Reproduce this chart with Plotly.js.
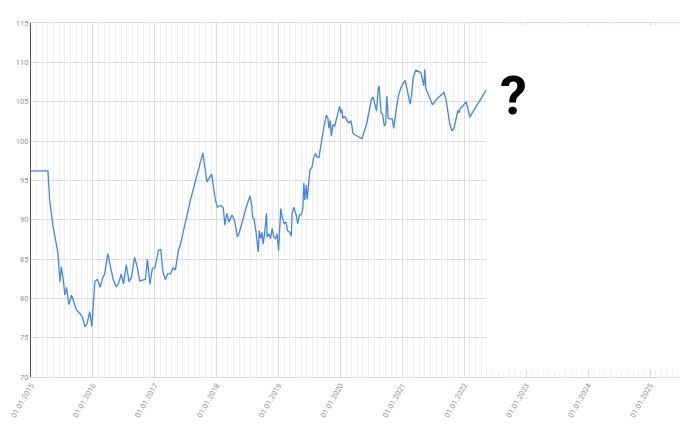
<!DOCTYPE html>
<html>
<head>
<meta charset="utf-8">
<script src="https://cdn.plot.ly/plotly-3.0.1.min.js"></script>
<style>html,body{margin:0;padding:0;background:#fff;}#chart{width:700px;height:430px;}</style>
</head>
<body>
<div id="chart"></div>
<script>
const dates = [
"2015-01-01","2015-04-11","2015-04-21","2015-05-10","2015-05-26","2015-06-09","2015-06-21","2015-06-29","2015-07-11","2015-07-20",
"2015-07-30","2015-08-12","2015-08-28","2015-09-11","2015-09-27","2015-10-16","2015-11-01","2015-11-15","2015-11-28","2015-12-14",
"2015-12-26","2016-01-13","2016-01-28","2016-02-13","2016-02-27","2016-03-11","2016-03-29","2016-04-12","2016-05-01","2016-05-17",
"2016-06-01","2016-06-17","2016-06-30","2016-07-16","2016-08-02","2016-08-16","2016-09-03","2016-09-19","2016-10-04","2016-10-18",
"2016-11-06","2016-11-18","2016-12-03","2016-12-17","2017-01-02","2017-01-22","2017-02-05","2017-02-18","2017-03-04","2017-03-17",
"2017-04-03","2017-04-19","2017-05-02","2017-05-18","2017-06-01","2017-07-30","2017-10-11","2017-11-04","2017-12-02","2017-12-24",
"2018-01-05","2018-01-24","2018-02-09","2018-02-18","2018-03-02","2018-03-14","2018-04-01","2018-04-16","2018-05-03","2018-05-15",
"2018-06-04","2018-06-27","2018-07-16","2018-07-27","2018-08-01","2018-08-09","2018-08-21","2018-08-28","2018-09-03","2018-09-09",
"2018-09-17","2018-09-25","2018-10-02","2018-10-10","2018-10-22","2018-10-25","2018-11-05","2018-11-15","2018-11-24","2018-12-04",
"2018-12-14","2018-12-23","2019-01-01","2019-01-14","2019-01-22","2019-02-03","2019-02-13","2019-02-23","2019-03-07","2019-03-17",
"2019-03-22","2019-04-01","2019-04-15","2019-04-24","2019-05-04","2019-05-14","2019-05-24","2019-05-30","2019-06-05","2019-06-13",
"2019-06-19","2019-06-27","2019-07-05","2019-07-18","2019-07-26","2019-08-07","2019-08-15","2019-08-27","2019-09-10","2019-09-24",
"2019-10-10","2019-10-19","2019-10-25","2019-11-02","2019-11-08","2019-11-18","2019-11-28","2019-12-08","2019-12-17","2019-12-27",
"2020-01-03","2020-01-09","2020-01-15","2020-01-25","2020-02-02","2020-02-10","2020-02-20","2020-03-02","2020-03-09","2020-03-15",
"2020-03-25","2020-04-14","2020-05-07","2020-06-03","2020-07-02","2020-07-11","2020-07-21","2020-08-01","2020-08-11","2020-08-16",
"2020-08-28","2020-09-06","2020-09-16","2020-09-24","2020-10-01","2020-10-09","2020-10-19","2020-11-02","2020-11-10","2020-11-18",
"2020-11-28","2020-12-08","2020-12-22","2021-01-07","2021-01-17","2021-01-27","2021-02-05","2021-02-15","2021-02-24","2021-03-05",
"2021-03-20","2021-04-04","2021-04-19","2021-04-29","2021-05-07","2021-05-13","2021-05-19","2021-05-26","2021-06-06","2021-06-16",
"2021-06-27","2021-07-21","2021-08-10","2021-09-03","2021-09-15","2021-09-28","2021-10-08","2021-10-20","2021-11-01","2021-11-12",
"2021-11-24","2021-11-30","2021-12-10","2021-12-25","2022-01-11","2022-01-21","2022-02-02","2022-02-23","2022-03-22","2022-05-11"
];
const values = [
96.2,96.2,92.5,89.3,87.4,85.7,82.1,84.0,82.3,80.4,
81.4,79.2,80.4,79.5,78.5,78.1,77.6,76.4,76.8,78.3,
76.4,82.2,82.4,81.4,82.6,83.1,85.7,84.2,82.3,81.5,
81.9,83.1,81.8,84.3,82.1,82.7,85.2,84.0,82.2,82.3,
82.4,85.0,81.8,83.8,83.9,86.1,86.2,83.3,82.4,83.1,
83.1,83.9,83.6,85.9,86.9,92.5,98.5,94.8,95.8,92.5,
91.6,91.8,91.5,89.3,90.8,89.7,90.6,89.9,87.8,88.4,
90.1,91.8,93.0,91.8,90.3,90.1,88.4,86.5,85.9,88.6,
87.6,88.4,86.9,88.2,90.8,87.8,88.2,87.6,88.9,87.8,
87.6,88.2,86.1,91.4,90.3,89.5,89.7,88.6,88.4,87.9,
90.8,91.6,90.6,89.5,90.6,90.6,91.4,94.7,92.5,94.4,
92.6,94.5,96.3,96.7,97.8,98.4,98.0,97.9,99.9,101.6,
103.3,102.9,101.6,102.6,100.6,102.1,101.9,102.7,103.6,104.4,
103.6,104.0,102.9,103.1,102.9,102.5,102.3,102.6,101.9,101.0,
100.8,100.6,100.3,102.1,105.3,105.6,104.6,103.8,106.7,107.0,
103.6,103.4,101.9,102.2,105.7,102.9,102.8,102.8,101.6,103.1,
104.4,105.7,106.7,107.4,107.7,106.7,105.7,104.7,105.9,108.0,
109.0,108.9,108.7,107.8,107.0,109.1,106.7,106.3,105.6,105.2,
104.6,105.3,105.7,106.2,105.3,103.3,102.1,101.3,101.6,102.7,
103.9,103.6,104.2,104.5,105.0,104.2,103.0,103.8,104.8,106.5
];
const xRange = ["2015-01-01", "2025-06-21"];
const yRange = [70, 115];
const futureStart = "2022-05-11";
const questionMark = "<b>?</b>";

const labelFont = {family: "Roboto, Arial, sans-serif", size: 7.6, color: "#959595"};

const trace = {
  x: dates, y: values, type: "scatter", mode: "lines",
  line: {color: "#4285f4", width: 1.3}, hoverinfo: "skip"
};

const layout = {
  width: 700, height: 430,
  margin: {l: 31, r: 21, t: 23, b: 53},
  paper_bgcolor: "#fff", plot_bgcolor: "#fff",
  showlegend: false,
  xaxis: {
    type: "date", range: xRange,
    tick0: "2015-01-01", dtick: "M12", tickformat: "%d.%m.%Y",
    tickangle: -60, tickfont: labelFont,
    showgrid: true, gridcolor: "#dcdcdc", gridwidth: 1,
    minor: {tick0: "2015-01-01", dtick: 31557600000/11, showgrid: true, gridcolor: "#f0f0f0", gridwidth: 1},
    showline: true, linecolor: "#dcdcdc", linewidth: 1, mirror: true,
    zeroline: false, ticks: ""
  },
  yaxis: {
    range: yRange, dtick: 5, tick0: 70,
    tickfont: labelFont,
    showgrid: true, gridcolor: "#dcdcdc", gridwidth: 1,
    showline: true, linecolor: "#555", linewidth: 1,
    zeroline: false, ticks: ""
  },
  shapes: [{
    type: "rect", xref: "x", yref: "y", layer: "above",
    x0: futureStart, x1: xRange[1], y0: 70.9, y1: 114.7,
    fillcolor: "#fff", line: {width: 0}
  }],
  annotations: [{
    text: questionMark, xref: "paper", yref: "paper",
    x: 0.745, y: 0.794, xanchor: "center", yanchor: "middle",
    showarrow: false,
    font: {family: "Roboto, Arial, sans-serif", size: 54, color: "#000"}
  }]
};

Plotly.newPlot("chart", [trace], layout, {displayModeBar: false, staticPlot: true});
</script>
</body>
</html>
